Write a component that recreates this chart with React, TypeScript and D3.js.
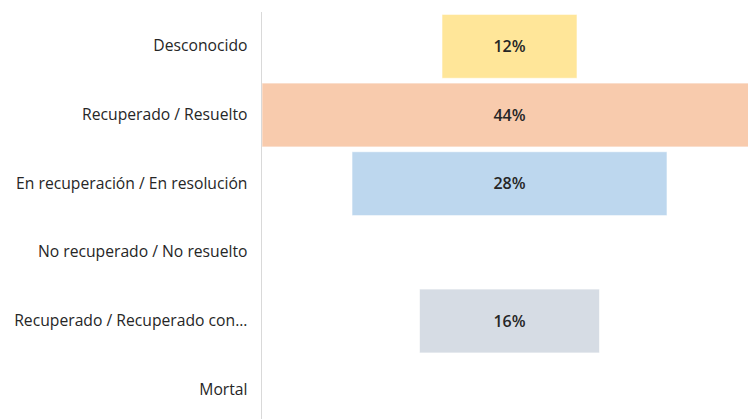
import React, { useEffect, useRef } from "react";
import * as d3 from "d3";

// chart data
const categories = [
  "Desconocido",
  "Recuperado / Resuelto",
  "En recuperación / En resolución",
  "No recuperado / No resuelto",
  "Recuperado / Recuperado con...",
  "Mortal",
];
const shares = [0.12, 0.44, 0.28, 0, 0.16, 0];
const barColors = ["#FFE699", "#F8CBAD", "#BDD7EE", "#FFFFFF", "#D6DCE4", "#FFFFFF"];

const width = 748;
const height = 419;

export default function App() {
  const ref = useRef<SVGSVGElement | null>(null);

  useEffect(() => {
    document.body.style.margin = "0";
    const svg = d3.select(ref.current);
    svg.selectAll("*").remove();

    const left = 262;
    const plotWidth = 495;
    const top = 12;
    const bottom = 424;

    const maxVal = d3.max(shares) as number;
    const xScale = d3.scaleLinear().domain([-maxVal / 2, maxVal / 2]).range([left, left + plotWidth]);
    const yScale = d3.scaleBand().domain(categories).range([top, bottom]).paddingInner(0.07).paddingOuter(0.035);

    const font = "'Open Sans', 'Liberation Sans', sans-serif";

    // bars, centred on zero
    svg.append("g")
      .selectAll("rect")
      .data(categories)
      .enter()
      .append("rect")
      .attr("x", (d, i) => xScale(-shares[i] / 2))
      .attr("y", d => yScale(d) as number)
      .attr("width", (d, i) => xScale(shares[i] / 2) - xScale(-shares[i] / 2))
      .attr("height", yScale.bandwidth())
      .attr("fill", (d, i) => barColors[i])
      .attr("stroke", "#ffffff")
      .attr("stroke-opacity", 0.6)
      .attr("stroke-width", 1);

    // value labels
    svg.append("g")
      .selectAll("text")
      .data(categories.filter((d, i) => shares[i] > 0))
      .enter()
      .append("text")
      .attr("x", xScale(0))
      .attr("y", d => (yScale(d) as number) + yScale.bandwidth() / 2)
      .attr("dy", "0.35em")
      .attr("text-anchor", "middle")
      .attr("font-family", font)
      .attr("font-size", 16)
      .attr("font-weight", 600)
      .attr("fill", "#262626")
      .text(d => `${Math.round(shares[categories.indexOf(d)] * 100)}%`);

    // category axis
    const axis = svg.append("g")
      .attr("transform", `translate(${left - 0.5},0)`)
      .call(d3.axisLeft(yScale).tickSize(0).tickPadding(14));
    axis.select(".domain")
      .attr("d", `M0,${top}V${height}`)
      .attr("stroke", "#d9d9d9");
    axis.selectAll("text")
      .attr("font-family", font)
      .attr("font-size", 15.7)
      .attr("fill", "#262626");
  }, []);

  return <svg ref={ref} width={width} height={height} style={{ display: "block", background: "#fff" }} />;
}
